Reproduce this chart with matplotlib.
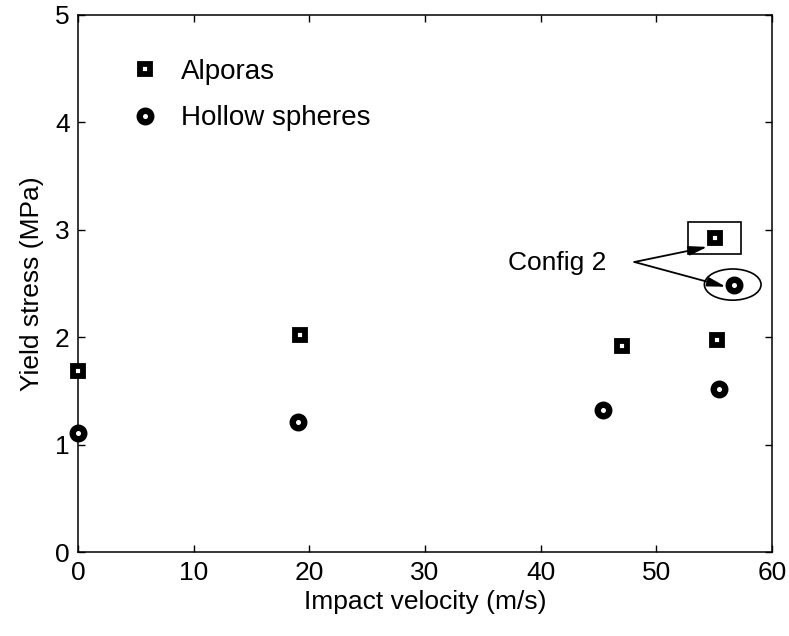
import matplotlib
matplotlib.use("Agg")
import matplotlib.pyplot as plt
from matplotlib.patches import Rectangle, Ellipse

plt.rcParams['font.family'] = ['Liberation Sans', 'DejaVu Sans']

# data
alporas_v = [0.0, 19.2, 47.0, 55.2, 55.1]
alporas_s = [1.69, 2.02, 1.92, 1.97, 2.92]
spheres_v = [0.0, 19.0, 45.4, 55.4, 56.7]
spheres_s = [1.11, 1.21, 1.32, 1.52, 2.49]

fig = plt.figure(figsize=(7.89, 6.36), dpi=100)
ax = fig.add_axes([0.099, 0.1316, 0.8795, 0.8453])

ax.plot(alporas_v, alporas_s, 's', color='black', mfc='white', ms=7.3, mew=4.2,
        clip_on=False, zorder=5, label='Alporas')
ax.plot(spheres_v, spheres_s, 'o', color='black', mfc='white', ms=8.3, mew=4.6,
        clip_on=False, zorder=5, label='Hollow spheres')

# highlight config 2 points
ax.add_patch(Rectangle((52.7, 2.77), 4.6, 0.30, fill=False, lw=1.2, ec='black'))
ax.add_patch(Ellipse((56.6, 2.49), 4.9, 0.29, fill=False, lw=1.2, ec='black'))

arrow = dict(arrowstyle='-|>,head_length=1.1,head_width=0.28', color='black',
             lw=1.3, shrinkA=0, shrinkB=0)
ax.annotate('', xy=(54.4, 2.84), xytext=(48.1, 2.70), arrowprops=arrow)
ax.annotate('', xy=(56.0, 2.47), xytext=(48.1, 2.70), arrowprops=arrow)
ax.text(37.2, 2.69, 'Config 2', fontsize=19, va='center', ha='left')

ax.set_xlim(0, 60)
ax.set_ylim(0, 5)
ax.set_xticks([0, 10, 20, 30, 40, 50, 60])
ax.set_yticks([0, 1, 2, 3, 4, 5])
ax.tick_params(direction='in', length=5, width=1, labelsize=19, top=True, right=True, pad=6)
for s in ax.spines.values():
    s.set_linewidth(1.1)

ax.set_xlabel('Impact velocity (m/s)', fontsize=19, labelpad=4)
ax.set_ylabel('Yield stress (MPa)', fontsize=19, labelpad=8)

ax.legend(loc='upper left', bbox_to_anchor=(0.04, 0.965), frameon=False, fontsize=20,
          handletextpad=0.8, labelspacing=0.75, handlelength=1.0)

fig.savefig('out.png', dpi=100)
